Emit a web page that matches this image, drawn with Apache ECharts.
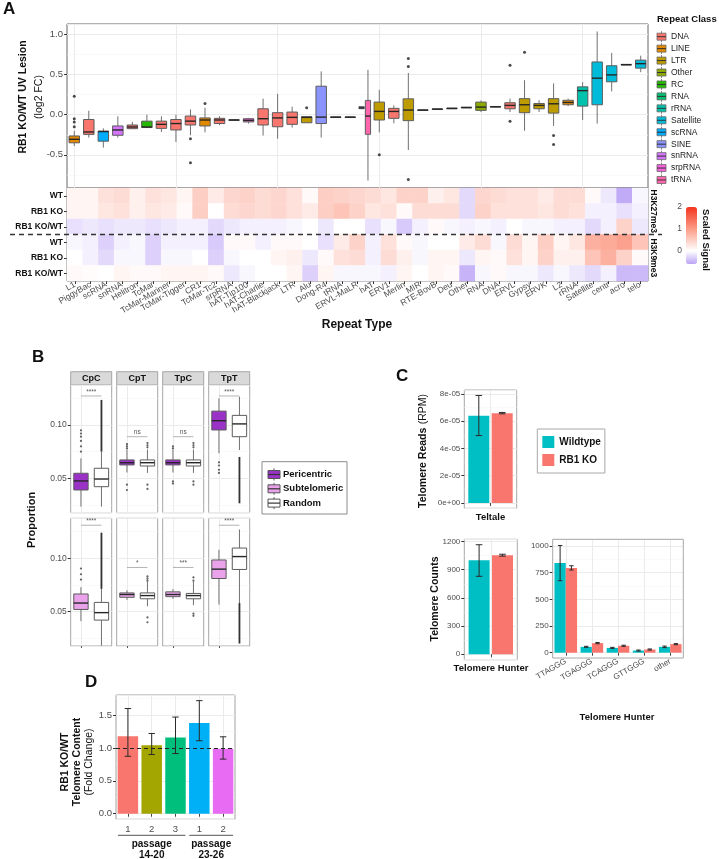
<!DOCTYPE html>
<html>
<head>
<meta charset="utf-8">
<script src="https://cdn.jsdelivr.net/npm/echarts@6/dist/echarts.min.js"></script>
<style>
  html, body { margin: 0; padding: 0; background: #fff; }
  #chart { width: 719px; height: 859px; }
</style>
</head>
<body>
<div id="chart"></div>
<script>
// ---------------- Panel A: UV lesion fold change per repeat type ----------------
const classNames = ['DNA', 'LINE', 'LTR', 'Other', 'RC', 'RNA', 'rRNA', 'Satellite', 'scRNA', 'SINE', 'snRNA', 'srpRNA', 'tRNA'];
const classColors = ['#F8766D', '#E18A00', '#BE9C00', '#8CAB00', '#24B700', '#00BE70', '#00C1AB', '#00BBDA', '#00ACFC', '#8B93FF', '#D575FE', '#F962DD', '#FF65AC'];

const boxSlotNames = ['L1', 'PiggyBac', 'scRNA', 'snRNA', 'DNA?', 'Helitron', 'TcMar', 'TcMar-Mariner', 'TcMar-Tigger', 'CR1',
  'TcMar-Tc2', 'Unknown', 'srpRNA', 'hAT-Tip100', 'hAT-Charlie', 'hAT-Blackjack', 'LTR', 'Alu', 'LTR?', 'Dong-R4',
  'tRNA', 'ERVL-MaLR', 'hAT', 'ERV1', 'Merlin', 'MIR', 'RTE-BovB', 'Deu', 'Other', 'RNA',
  'DNA', 'ERVL', 'Gypsy', 'ERVK', 'L2', 'rRNA', 'Satellite', 'centr', 'acro', 'telo'];

// [slot, min, q1, median, q3, max]
const boxStats = [
  [0, -0.39, -0.35, -0.306, -0.265, -0.2],
  [1, -0.285, -0.245, -0.215, -0.06, 0.05],
  [2, -0.41, -0.33, -0.21, -0.205, -0.17],
  [3, -0.285, -0.256, -0.19, -0.14, -0.02],
  [4, -0.174, -0.174, -0.153, -0.128, -0.09],
  [5, -0.16, -0.16, -0.153, -0.08, 0.0],
  [6, -0.215, -0.17, -0.12, -0.08, -0.02],
  [7, -0.34, -0.19, -0.11, -0.06, 0.0],
  [8, -0.256, -0.128, -0.08, -0.017, 0.066],
  [9, -0.22, -0.14, -0.066, -0.04, 0.087],
  [10, -0.13, -0.11, -0.066, -0.045, -0.02],
  [11, -0.07, -0.066, -0.066, -0.063, -0.06],
  [12, -0.11, -0.09, -0.07, -0.05, -0.04],
  [13, -0.26, -0.128, -0.05, 0.074, 0.2],
  [14, -0.3, -0.15, -0.04, 0.025, 0.26],
  [15, -0.16, -0.12, -0.033, 0.033, 0.1],
  [16, -0.1, -0.1, -0.033, -0.025, -0.02],
  [17, -0.285, -0.11, -0.03, 0.355, 0.54],
  [18, -0.033, -0.03, -0.03, -0.028, -0.025],
  [19, -0.033, -0.03, -0.03, -0.028, -0.025],
  [20, 0.07, 0.075, 0.085, 0.1, 0.1],
  [20, -0.82, -0.244, -0.017, 0.178, 0.56],
  [21, -0.22, -0.066, 0.041, 0.157, 0.31],
  [22, -0.107, -0.045, 0.041, 0.079, 0.116],
  [23, -0.44, -0.074, 0.058, 0.198, 0.52],
  [24, 0.056, 0.058, 0.058, 0.06, 0.06],
  [25, 0.068, 0.07, 0.07, 0.072, 0.072],
  [26, 0.077, 0.079, 0.079, 0.081, 0.081],
  [27, 0.088, 0.09, 0.09, 0.092, 0.092],
  [28, 0.033, 0.054, 0.095, 0.157, 0.178],
  [29, 0.098, 0.1, 0.1, 0.102, 0.102],
  [30, 0.033, 0.074, 0.116, 0.149, 0.2],
  [31, -0.2, 0.025, 0.124, 0.2, 0.43],
  [32, 0.033, 0.074, 0.116, 0.14, 0.18],
  [33, -0.14, 0.02, 0.136, 0.2, 0.39],
  [34, 0.107, 0.124, 0.153, 0.18, 0.2],
  [35, -0.066, 0.107, 0.3, 0.347, 0.405],
  [36, -0.11, 0.124, 0.455, 0.657, 1.037],
  [37, 0.29, 0.41, 0.496, 0.61, 0.77],
  [38, 0.622, 0.624, 0.624, 0.626, 0.626],
  [39, 0.53, 0.58, 0.636, 0.68, 0.735]
];
const boxClass = ['LINE', 'DNA', 'scRNA', 'snRNA', 'DNA', 'RC', 'DNA', 'DNA', 'DNA', 'LINE',
  'DNA', 'DNA', 'srpRNA', 'DNA', 'DNA', 'DNA', 'LTR', 'SINE', 'LTR', 'LINE',
  'SINE', 'tRNA', 'LTR', 'DNA', 'LTR', 'DNA', 'SINE', 'LINE', 'SINE', 'Other',
  'RNA', 'DNA', 'LTR', 'LTR', 'LTR', 'LINE', 'rRNA', 'Satellite', 'Satellite', 'Satellite', 'Satellite'];
// -1 / +1 = dodged pair sharing one slot
const boxDodge = [0, 0, 0, 0, 0, 0, 0, 0, 0, 0, 0, 0, 0, 0, 0, 0, 0, 0, 0, 0,
  -1, 1, 0, 0, 0, 0, 0, 0, 0, 0, 0, 0, 0, 0, 0, 0, 0, 0, 0, 0, 0];
// [slot, value]
const boxOutliers = [[0, 0.23], [0, -0.05], [0, -0.09], [0, -0.15], [8, -0.3], [8, -0.6], [9, 0.14], [16, 0.087],
  [21, -0.5], [23, 0.6], [23, 0.7], [23, -0.806], [30, 0.616], [30, -0.08], [31, 0.777], [33, -0.26], [33, -0.37]];

// heatmap (scaled signal)
const heatCols = ['L1', 'PiggyBac', 'scRNA', 'snRNA', 'Helitron', 'TcMar', 'TcMar-Mariner', 'TcMar-Tigger', 'CR1', 'TcMar-Tc2',
  'srpRNA', 'hAT-Tip100', 'hAT-Charlie', 'hAT-Blackjack', 'LTR', 'Alu', 'Dong-R4', 'tRNA', 'ERVL-MaLR', 'hAT',
  'ERV1', 'Merlin', 'MIR', 'RTE-BovB', 'Deu', 'Other', 'RNA', 'DNA', 'ERVL', 'Gypsy',
  'ERVK', 'L2', 'rRNA', 'Satellite', 'centr', 'acro', 'telo'];
const heatRowKeys = ['K27 WT', 'K27 RB1 KO', 'K27 RB1 KO/WT', 'K9 WT', 'K9 RB1 KO', 'K9 RB1 KO/WT'];
const heatRowLabels = ['WT', 'RB1 KO', 'RB1 KO/WT', 'WT', 'RB1 KO', 'RB1 KO/WT'];
const heatK27WT = [0.1, 0.1, 0.3, 0.35, 0.15, 0.3, 0.25, 0.1, 0.5, 0.2, 0.4, 0.45, 0.35, 0.4, 0.3, 0.05, 0.5, 0.45, 0.4, 0.35,
  0.25, 0.45, 0.45, 0.15, 0.25, -0.25, 0.4, 0.35, 0.3, 0.3, 0.2, 0.35, 0.35, 0.05, -0.15, -0.55, -0.05];
const heatK27KO = [0.1, 0.1, 0.25, 0.3, 0.15, 0.25, 0.2, 0.05, 0.5, 0.0, 0.35, 0.4, 0.35, 0.4, 0.3, 0.2, 0.5, 0.6, 0.45, 0.25,
  0.3, 0.05, 0.35, 0.35, 0.35, -0.25, 0.45, 0.3, 0.3, 0.3, 0.25, 0.35, 0.3, -0.1, -0.1, -0.2, -0.1];
const heatK27Ratio = [-0.2, -0.15, -0.2, -0.15, -0.15, -0.2, -0.15, -0.1, -0.1, -0.25, -0.15, -0.1, -0.1, -0.1, -0.05, 0.0, -0.15, 0.0, 0.0, -0.2,
  -0.05, -0.35, -0.1, 0.05, -0.05, -0.1, -0.05, -0.1, 0.0, -0.05, -0.05, -0.1, -0.1, -0.25, -0.1, 0.45, -0.15];
const heatK9WT = [-0.05, -0.1, -0.3, -0.1, -0.05, -0.3, -0.1, -0.1, -0.1, -0.35, 0.05, 0.05, -0.1, 0.05, 0.05, 0.0, -0.2, 0.2, 0.45, -0.1,
  0.3, 0.05, -0.05, 0.0, 0.0, 0.2, 0.35, -0.05, 0.35, 0.1, 0.5, 0.1, 0.25, 0.8, 0.85, 0.95, 0.6];
const heatK9KO = [0.0, -0.1, -0.25, -0.05, -0.05, -0.3, -0.05, -0.05, 0.0, -0.3, -0.05, 0.0, 0.0, 0.1, 0.15, -0.15, 0.05, 0.3, 0.35, -0.1,
  0.35, 0.15, -0.05, 0.1, 0.1, -0.15, 0.1, 0.05, 0.3, 0.1, 0.45, 0.15, 0.15, 0.6, 0.8, 0.45, 0.05];
const heatK9Ratio = [0.05, 0.03, 0.0, 0.1, 0.05, 0.05, 0.1, 0.1, 0.1, 0.05, -0.15, -0.05, 0.0, 0.0, 0.1, -0.3, 0.1, -0.05, -0.05, -0.05,
  -0.1, 0.1, 0.0, 0.1, 0.05, -0.5, -0.05, 0.05, -0.05, -0.05, -0.15, -0.05, -0.15, -0.25, -0.1, -0.45, -0.45];
const scaleTicks = [2, 1, 0];

// ---------------- Panel B: dinucleotide proportions ----------------
const dinucs = ['CpC', 'CpT', 'TpC', 'TpT'];
const groupNames = ['Pericentric', 'Subtelomeric', 'Random'];
// [min, q1, median, q3, max] per dinucleotide
const periStats = [[0.0234, 0.039, 0.0475, 0.0547, 0.0687], [0.0554, 0.0625, 0.0646, 0.0672, 0.0766], [0.0554, 0.0625, 0.0646, 0.0672, 0.0766], [0.0735, 0.0953, 0.104, 0.113, 0.125]];
const randTopStats = [[0.0234, 0.0421, 0.0493, 0.0594, 0.075], [0.055, 0.0615, 0.0646, 0.0672, 0.077], [0.055, 0.0615, 0.0646, 0.0672, 0.077], [0.0765, 0.089, 0.101, 0.109, 0.1265]];
const subStats = [[0.041, 0.052, 0.058, 0.0665, 0.0729], [0.061, 0.0634, 0.066, 0.0675, 0.07], [0.062, 0.064, 0.066, 0.0685, 0.071], [0.0566, 0.081, 0.0898, 0.0984, 0.108]];
const randBotStats = [[0.018, 0.042, 0.049, 0.0586, 0.0713], [0.055, 0.062, 0.065, 0.0675, 0.078], [0.056, 0.062, 0.065, 0.067, 0.078], [0.058, 0.0895, 0.1016, 0.1096, 0.127]];
// outlier points [group(0 = region, 1 = Random), value]
const periOutliers = [[[0, 0.075], [0, 0.08], [0, 0.085], [0, 0.089], [0, 0.092], [0, 0.095]],
  [[0, 0.078], [0, 0.08], [0, 0.082], [0, 0.044], [0, 0.039], [1, 0.079], [1, 0.081], [1, 0.083], [1, 0.044], [1, 0.04]],
  [[0, 0.078], [0, 0.08], [0, 0.047], [0, 0.045], [1, 0.079], [1, 0.081], [1, 0.083], [1, 0.047], [1, 0.044]],
  [[0, 0.065], [0, 0.062], [0, 0.058], [0, 0.055]]];
const subOutliers = [[[0, 0.08], [0, 0.085], [0, 0.0904]],
  [[1, 0.079], [1, 0.081], [1, 0.083], [1, 0.0445], [1, 0.04]],
  [[1, 0.079], [1, 0.082], [1, 0.048], [1, 0.046]],
  []];
// dense outlier runs [group, from, to]
const periStreaks = [[[1, 0.075, 0.1235]], [], [], [[1, 0.0265, 0.07]]];
const subStreaks = [[[1, 0.0713, 0.124]], [], [], [[1, 0.02, 0.058]]];
const periSig = [[0.1272, '****'], [0.089, 'ns'], [0.089, 'ns'], [0.1272, '****']];
const subSig = [[0.131, '****'], [0.0914, '*'], [0.0914, '***'], [0.131, '****']];

// ---------------- Panel C: telomere reads ----------------
const genotypes = ['Wildtype', 'RB1 KO'];
const teltaleMean = [6.4e-5, 6.6e-5];
const teltaleErr = [[4.95e-5, 7.9e-5], [6.55e-5, 6.65e-5]];
const hunterMean = [1000, 1055];
const hunterErr = [[830, 1166], [1045, 1065]];
const motifs = ['TTAGGG', 'TGAGGG', 'TCAGGG', 'GTTGGG', 'other'];
const motifWT = [840, 55, 45, 20, 55];
const motifKO = [795, 90, 65, 30, 80];
const motifErrWT = [[675, 1005], [50, 60], [40, 50], [15, 25], [48, 62]];
const motifErrKO = [[775, 815], [84, 96], [60, 70], [25, 35], [75, 85]];

// ---------------- Panel D: telomere content fold change ----------------
const dReplicate = ['1', '2', '3', '1', '2'];
const dSampleKeys = ['14-20 r1', '14-20 r2', '14-20 r3', '23-26 r1', '23-26 r2'];
const dFold = [1.18, 1.04, 1.16, 1.38, 0.985];
const dErr = [[0.873, 1.6], [0.9, 1.22], [0.915, 1.47], [1.11, 1.72], [0.83, 1.17]];
const dGroups = [[0, 2], [3, 4]];
const dGroupLabels = ['passage\n14-20', 'passage\n23-26'];

// ---------------- styling ----------------
const FONT = '"Liberation Sans", Arial, Helvetica, sans-serif';
const TXT = '#4D4D4D';
const GRIDLINE = '#EBEBEB';
const MINOR = '#F5F5F5';
const periColor = '#9A32C8';
const subColor = '#EAA3EA';
const wtColor = '#00BFC4';
const koColor = '#F8766D';
const dColors = ['#F8766D', '#A3A500', '#00BF7D', '#00B0F6', '#E76BF3'];

function classColor(c) { return classColors[classNames.indexOf(c)]; }

function sciLabel(v) {
  if (Math.abs(v) < 1e-12) return '0e+00';
  const e = Math.floor(Math.log10(Math.abs(v)) + 1e-9);
  const m = Math.round(v / Math.pow(10, e));
  return m + 'e' + (e < 0 ? '-' : '+') + String(Math.abs(e)).padStart(2, '0');
}
function plainLabel(v) { return String(Math.round(v)); }

function mix(a, b, t) {
  const pa = [1, 3, 5].map(i => parseInt(a.substr(i, 2), 16));
  const pb = [1, 3, 5].map(i => parseInt(b.substr(i, 2), 16));
  return '#' + pa.map((v, i) => Math.round(v + (pb[i] - v) * t).toString(16).padStart(2, '0')).join('');
}
const scaleAnchors = [[-0.6, '#BBA3F6'], [0, '#FFFFFF'], [1, '#FB9C87'], [2, '#F4341D']];
function scaleColor(v) {
  for (let i = 0; i < scaleAnchors.length - 1; i++) {
    const [v0, c0] = scaleAnchors[i], [v1, c1] = scaleAnchors[i + 1];
    if (v <= v1 + 1e-9) return mix(c0, c1, (v - v0) / (v1 - v0));
  }
  return scaleAnchors[scaleAnchors.length - 1][1];
}
const vmColors = [];
for (let k = 0; k <= 13; k++) vmColors.push(scaleColor(-0.6 + k * 0.2));

// box glyph drawn through the axis scales
function makeBoxRenderer(widthFrac, dodgeFrac) {
  return function (params, api) {
    const slot = api.value(0);
    const band = api.size([1, 0])[0];
    const dodge = api.value(6) || 0;
    const w = band * (dodge ? widthFrac / 2 : widthFrac);
    const cx = api.coord([slot, 0])[0] + dodge * band * dodgeFrac;
    const y = k => api.coord([slot, api.value(k)])[1];
    const yMin = y(1), yQ1 = y(2), yMed = y(3), yQ3 = y(4), yMax = y(5);
    const whisker = { stroke: '#707070', lineWidth: 1 };
    return {
      type: 'group', children: [
        { type: 'line', shape: { x1: cx, y1: yMin, x2: cx, y2: yQ1 }, style: whisker },
        { type: 'line', shape: { x1: cx, y1: yQ3, x2: cx, y2: yMax }, style: whisker },
        { type: 'rect', shape: { x: cx - w / 2, y: yQ3, width: w, height: Math.max(yQ1 - yQ3, 0.6) },
          style: { fill: api.visual('color'), stroke: '#5C5C5C', lineWidth: 1 } },
        { type: 'line', shape: { x1: cx - w / 2, y1: yMed, x2: cx + w / 2, y2: yMed }, style: { stroke: '#262626', lineWidth: 1.4 } }
      ]
    };
  };
}

function makeErrRenderer(offsetPx, cap) {
  return function (params, api) {
    const c = api.value(0);
    const x = api.coord([c, 0])[0] + offsetPx;
    const yLo = api.coord([c, api.value(1)])[1];
    const yHi = api.coord([c, api.value(2)])[1];
    const st = { stroke: '#2A2A2A', lineWidth: 1 };
    return {
      type: 'group', children: [
        { type: 'line', shape: { x1: x, y1: yLo, x2: x, y2: yHi }, style: st },
        { type: 'line', shape: { x1: x - cap, y1: yLo, x2: x + cap, y2: yLo }, style: st },
        { type: 'line', shape: { x1: x - cap, y1: yHi, x2: x + cap, y2: yHi }, style: st }
      ]
    };
  };
}

function streakRenderer(params, api) {
  const c = api.value(0);
  const x = api.coord([c, 0])[0];
  const y1 = api.coord([c, api.value(1)])[1], y2 = api.coord([c, api.value(2)])[1];
  return { type: 'line', shape: { x1: x, y1: y1, x2: x, y2: y2 }, style: { stroke: '#333', lineWidth: 1.8 } };
}

function makeSigRenderer(text) {
  return function (params, api) {
    const a = api.coord([api.value(0), api.value(2)]);
    const b = api.coord([api.value(1), api.value(2)]);
    return {
      type: 'group', children: [
        { type: 'line', shape: { x1: a[0], y1: a[1], x2: b[0], y2: b[1] }, style: { stroke: '#A0A0A0', lineWidth: 0.8 } },
        { type: 'text', x: (a[0] + b[0]) / 2, y: a[1] - 0.5,
          style: { text: text, align: 'center', verticalAlign: 'bottom', fontSize: 6.5, fill: '#555', fontFamily: FONT } }
      ]
    };
  };
}

const grids = [], xAxes = [], yAxes = [], series = [], graphics = [];

function catAxis(gi, data, extra) {
  return Object.assign({
    type: 'category', gridIndex: gi, data: data, boundaryGap: true,
    axisLine: { show: false },
    axisTick: { show: false },
    axisLabel: { show: false },
    splitLine: { show: true, alignWithLabel: true, lineStyle: { color: GRIDLINE, width: 1 } }
  }, extra || {});
}
function valAxis(gi, min, max, extra) {
  return Object.assign({
    type: 'value', gridIndex: gi, min: min, max: max,
    axisLine: { show: false },
    axisTick: { show: true, length: 3, lineStyle: { color: '#333' } },
    axisLabel: { show: true, fontSize: 8.5, color: TXT, margin: 4, fontFamily: FONT, showMinLabel: false, showMaxLabel: false },
    splitLine: { show: true, lineStyle: { color: GRIDLINE, width: 1 } },
    minorTick: { show: false, splitNumber: 2 },
    minorSplitLine: { show: true, lineStyle: { color: MINOR, width: 0.6 } }
  }, extra || {});
}

// ---- A: boxplot grid (0) ----
const A_LEFT = 67, A_W = 581, A_TOP = 24, A_BOX_H = 164, A_HEAT_H = 93;
grids.push({ left: A_LEFT, top: A_TOP, width: A_W, height: A_BOX_H, show: true, borderColor: '#666', borderWidth: 1, backgroundColor: '#fff', outerBoundsMode: 'none', containLabel: false });
xAxes.push(catAxis(0, boxSlotNames));
yAxes.push(valAxis(0, -0.913, 1.13, {
  splitNumber: 4,
  axisLabel: { show: true, fontSize: 9.5, color: TXT, margin: 4, fontFamily: FONT, showMinLabel: false, showMaxLabel: false, formatter: v => v.toFixed(1) },
  axisTick: { show: true, length: 3, lineStyle: { color: '#333' } }
}));
series.push({
  type: 'custom', name: 'UV lesion', xAxisIndex: 0, yAxisIndex: 0,
  renderItem: makeBoxRenderer(0.72, 0.22),
  encode: { x: 0, y: [1, 2, 3, 4, 5] },
  data: boxStats.map((s, i) => ({ value: s.concat([boxDodge[i]]), itemStyle: { color: classColor(boxClass[i]) } })),
  z: 3, silent: true
});
series.push({
  type: 'scatter', xAxisIndex: 0, yAxisIndex: 0, data: boxOutliers, symbolSize: 3,
  itemStyle: { color: '#1E1E1E' }, z: 4, silent: true
});

// ---- A: heatmap grid (1) ----
grids.push({ left: A_LEFT, top: A_TOP + A_BOX_H, width: A_W, height: A_HEAT_H, show: true, borderColor: '#666', borderWidth: 1, backgroundColor: '#fff', outerBoundsMode: 'none', containLabel: false });
xAxes.push({
  type: 'category', gridIndex: 1, data: heatCols, boundaryGap: true,
  axisLine: { show: false },
  axisTick: { show: true, length: 3, alignWithLabel: true, lineStyle: { color: '#333' } },
  axisLabel: { show: true, interval: 0, rotate: 30, fontSize: 8.5, color: TXT, margin: 3, fontFamily: FONT },
  splitLine: { show: false }
});
yAxes.push({
  type: 'category', gridIndex: 1, data: heatRowKeys, inverse: true, boundaryGap: true,
  axisLine: { show: false },
  axisTick: { show: true, length: 3, alignWithLabel: true, lineStyle: { color: '#333' } },
  axisLabel: { show: true, fontSize: 8.5, fontWeight: 'bold', color: '#111', margin: 4, fontFamily: FONT, formatter: (v, i) => heatRowLabels[i] },
  splitLine: { show: false }
});
const heatRows = [heatK27WT, heatK27KO, heatK27Ratio, heatK9WT, heatK9KO, heatK9Ratio];
const heatData = [];
heatRows.forEach((row, r) => row.forEach((v, c) => heatData.push([c, r, v])));
const heatSeriesIndex = series.length;
series.push({
  type: 'heatmap', name: 'Scaled Signal', xAxisIndex: 1, yAxisIndex: 1, data: heatData,
  itemStyle: { borderWidth: 0 }, emphasis: { disabled: true }, silent: true, z: 2
});

// ---- B: 2 rows x 4 facets (grids 2..9) ----
const B_X = [70.7, 116.7, 162.7, 208.7], B_W = 41, B_Y = [385, 518.3], B_H = 127.7;
const B_MIN = 0.0177, B_MAX = 0.1375;
for (let r = 0; r < 2; r++) {
  for (let f = 0; f < 4; f++) {
    const gi = grids.length;
    grids.push({ left: B_X[f], top: B_Y[r], width: B_W, height: B_H, show: true, borderColor: '#A6A6A6', borderWidth: 1, backgroundColor: '#fff', outerBoundsMode: 'none', containLabel: false });
    const cats = r === 0 ? ['Pericentric', 'Random'] : ['Subtelomeric', 'Random'];
    xAxes.push(catAxis(gi, cats, {
      axisTick: { show: r === 1, length: 2, alignWithLabel: true, lineStyle: { color: '#555' } }
    }));
    yAxes.push(valAxis(gi, B_MIN, B_MAX, {
      splitNumber: 2,
      axisLabel: { show: f === 0, fontSize: 8.5, color: TXT, margin: 4, fontFamily: FONT, showMinLabel: false, showMaxLabel: false, formatter: v => v.toFixed(2) },
      axisTick: { show: f === 0, length: 3, lineStyle: { color: '#333' } }
    }));
    const st = r === 0 ? periStats[f] : subStats[f];
    const rs = r === 0 ? randTopStats[f] : randBotStats[f];
    series.push({
      type: 'custom', xAxisIndex: gi, yAxisIndex: gi, renderItem: makeBoxRenderer(0.7, 0),
      encode: { x: 0, y: [1, 2, 3, 4, 5] }, z: 3, silent: true,
      data: [
        { value: [0].concat(st, [0]), itemStyle: { color: r === 0 ? periColor : subColor } },
        { value: [1].concat(rs, [0]), itemStyle: { color: '#FFFFFF' } }
      ]
    });
    const outs = r === 0 ? periOutliers[f] : subOutliers[f];
    if (outs.length) {
      series.push({ type: 'scatter', xAxisIndex: gi, yAxisIndex: gi, data: outs, symbolSize: 2.2, itemStyle: { color: '#3A3A3A' }, z: 4, silent: true });
    }
    const streaks = r === 0 ? periStreaks[f] : subStreaks[f];
    if (streaks.length) {
      series.push({ type: 'custom', xAxisIndex: gi, yAxisIndex: gi, renderItem: streakRenderer, encode: { x: 0, y: [1, 2] }, data: streaks, z: 4, silent: true });
    }
    const sig = r === 0 ? periSig[f] : subSig[f];
    series.push({
      type: 'custom', xAxisIndex: gi, yAxisIndex: gi, renderItem: makeSigRenderer(sig[1]),
      encode: { x: [0, 1], y: 2 }, data: [[0, 1, sig[0]]], z: 5, silent: true
    });
  }
}

// ---- C: Teltale (grid 10) ----
const C_BARW = 21, C_GAP = 2.4;
const cOff = (C_BARW + C_GAP) / 2;
let gi = grids.length;
grids.push({ left: 464.3, top: 390, width: 52.4, height: 118.3, show: true, borderColor: '#A8A8A8', borderWidth: 1, backgroundColor: '#fff', outerBoundsMode: 'none', containLabel: false });
xAxes.push(catAxis(gi, ['Teltale'], { axisTick: { show: true, length: 3, alignWithLabel: true, lineStyle: { color: '#444' } } }));
yAxes.push(valAxis(gi, -0.395e-5, 8.3e-5, {
  splitNumber: 4,
  axisLabel: { show: true, fontSize: 8, color: TXT, margin: 4, fontFamily: FONT, showMinLabel: false, showMaxLabel: false, formatter: sciLabel }
}));
series.push({ type: 'bar', name: genotypes[0], xAxisIndex: gi, yAxisIndex: gi, data: [teltaleMean[0]], barWidth: C_BARW, barGap: (C_GAP / C_BARW * 100) + '%', itemStyle: { color: wtColor }, silent: true });
series.push({ type: 'bar', name: genotypes[1], xAxisIndex: gi, yAxisIndex: gi, data: [teltaleMean[1]], barWidth: C_BARW, itemStyle: { color: koColor }, silent: true });
series.push({ type: 'custom', xAxisIndex: gi, yAxisIndex: gi, renderItem: makeErrRenderer(-cOff, 3.3), encode: { x: 0, y: [1, 2] }, data: [[0].concat(teltaleErr[0])], z: 5, silent: true });
series.push({ type: 'custom', xAxisIndex: gi, yAxisIndex: gi, renderItem: makeErrRenderer(cOff, 3.3), encode: { x: 0, y: [1, 2] }, data: [[0].concat(teltaleErr[1])], z: 5, silent: true });

// ---- C: Telomere Hunter total (grid 11) ----
gi = grids.length;
grids.push({ left: 464.3, top: 539.3, width: 53, height: 120.4, show: true, borderColor: '#A8A8A8', borderWidth: 1, backgroundColor: '#fff', outerBoundsMode: 'none', containLabel: false });
xAxes.push(catAxis(gi, ['Telomere Hunter'], { axisTick: { show: true, length: 3, alignWithLabel: true, lineStyle: { color: '#444' } } }));
yAxes.push(valAxis(gi, -58, 1224, {
  splitNumber: 4,
  axisLabel: { show: true, fontSize: 8, color: TXT, margin: 4, fontFamily: FONT, showMinLabel: false, showMaxLabel: false, formatter: plainLabel }
}));
series.push({ type: 'bar', name: genotypes[0], xAxisIndex: gi, yAxisIndex: gi, data: [hunterMean[0]], barWidth: C_BARW, barGap: (C_GAP / C_BARW * 100) + '%', itemStyle: { color: wtColor }, silent: true });
series.push({ type: 'bar', name: genotypes[1], xAxisIndex: gi, yAxisIndex: gi, data: [hunterMean[1]], barWidth: C_BARW, itemStyle: { color: koColor }, silent: true });
series.push({ type: 'custom', xAxisIndex: gi, yAxisIndex: gi, renderItem: makeErrRenderer(-cOff, 3.3), encode: { x: 0, y: [1, 2] }, data: [[0].concat(hunterErr[0])], z: 5, silent: true });
series.push({ type: 'custom', xAxisIndex: gi, yAxisIndex: gi, renderItem: makeErrRenderer(cOff, 3.3), encode: { x: 0, y: [1, 2] }, data: [[0].concat(hunterErr[1])], z: 5, silent: true });

// ---- C: Telomere Hunter motifs (grid 12) ----
const M_BARW = 11.3;
const C2 = { left: 552.7, top: 539.3, width: 130.6, height: 113.4, frameH: 118.7 };
gi = grids.length;
grids.push({ left: C2.left, top: C2.top, width: C2.width, height: C2.height, show: false, outerBoundsMode: 'none', containLabel: false });
xAxes.push(catAxis(gi, motifs, {
  axisTick: { show: true, length: 3, alignWithLabel: true, lineStyle: { color: '#444' } },
  axisLabel: { show: true, interval: 0, rotate: 30, fontSize: 8, color: TXT, margin: 8, fontFamily: FONT }
}));
yAxes.push(valAxis(gi, 0, 1063, { interval: 250, axisLabel: { show: true, fontSize: 8, color: TXT, margin: 4, fontFamily: FONT, showMinLabel: true, showMaxLabel: false, formatter: plainLabel } }));
series.push({ type: 'bar', name: genotypes[0], xAxisIndex: gi, yAxisIndex: gi, data: motifWT, barWidth: M_BARW, barGap: '0%', itemStyle: { color: wtColor }, silent: true });
series.push({ type: 'bar', name: genotypes[1], xAxisIndex: gi, yAxisIndex: gi, data: motifKO, barWidth: M_BARW, itemStyle: { color: koColor }, silent: true });
series.push({ type: 'custom', xAxisIndex: gi, yAxisIndex: gi, renderItem: makeErrRenderer(-M_BARW / 2, 2.2), encode: { x: 0, y: [1, 2] }, data: motifErrWT.map((e, i) => [i].concat(e)), z: 5, silent: true });
series.push({ type: 'custom', xAxisIndex: gi, yAxisIndex: gi, renderItem: makeErrRenderer(M_BARW / 2, 2.2), encode: { x: 0, y: [1, 2] }, data: motifErrKO.map((e, i) => [i].concat(e)), z: 5, silent: true });

// ---- D: fold change (grid 13) ----
gi = grids.length;
grids.push({ left: 116, top: 695, width: 119, height: 124.3, show: true, borderColor: '#A0A0A0', borderWidth: 1, backgroundColor: '#fff', outerBoundsMode: 'none', containLabel: false });
xAxes.push(catAxis(gi, dSampleKeys, {
  axisTick: { show: true, length: 3, alignWithLabel: true, lineStyle: { color: '#444' } },
  axisLabel: { show: true, interval: 0, fontSize: 9.5, color: TXT, margin: 5, fontFamily: FONT, formatter: (v, i) => dReplicate[i] }
}));
yAxes.push(valAxis(gi, -0.086, 1.806, {
  splitNumber: 4,
  axisLabel: { show: true, fontSize: 9.5, color: TXT, margin: 4, fontFamily: FONT, showMinLabel: false, showMaxLabel: false, formatter: v => v.toFixed(1) }
}));
series.push({
  type: 'bar', xAxisIndex: gi, yAxisIndex: gi, barWidth: '86%', silent: true,
  data: dFold.map((v, i) => ({ value: v, itemStyle: { color: dColors[i] } })),
  markLine: { silent: true, symbol: 'none', label: { show: false }, lineStyle: { type: [4, 3], color: '#222', width: 1 }, data: [{ yAxis: 1 }] }
});
series.push({ type: 'custom', xAxisIndex: gi, yAxisIndex: gi, renderItem: makeErrRenderer(0, 3.2), encode: { x: 0, y: [1, 2] }, data: dErr.map((e, i) => [i].concat(e)), z: 5, silent: true });
series.push({
  type: 'custom', xAxisIndex: gi, yAxisIndex: gi, clip: false, silent: true, encode: { x: [0, 1], y: 2 },
  data: dGroups.map(g => [g[0], g[1], 0]),
  renderItem: function (params, api) {
    const band = api.size([1, 0])[0];
    const x1 = api.coord([api.value(0), 0])[0] - band * 0.42;
    const x2 = api.coord([api.value(1), 0])[0] + band * 0.42;
    const y = params.coordSys.y + params.coordSys.height + 16;
    return {
      type: 'group', children: [
        { type: 'line', shape: { x1: x1, y1: y, x2: x2, y2: y }, style: { stroke: '#555', lineWidth: 1 } },
        { type: 'text', x: (x1 + x2) / 2, y: y + 3, style: { text: dGroupLabels[params.dataIndex], align: 'center', verticalAlign: 'top', fontSize: 10, fontWeight: 'bold', lineHeight: 11.5, fill: '#111', fontFamily: FONT } }
      ]
    };
  }
});

// ---------------- annotations ----------------
function label(x, y, text, extra, rotation) {
  const el = { type: 'text', x: x, y: y, silent: true, style: Object.assign({ text: text, fontFamily: FONT, fill: '#111', align: 'center', verticalAlign: 'middle' }, extra || {}) };
  if (rotation) el.rotation = rotation;
  graphics.push(el);
}
// panel letters
label(3, 1, 'A', { fontSize: 17, fontWeight: 'bold', align: 'left', verticalAlign: 'top' });
label(32, 349, 'B', { fontSize: 17, fontWeight: 'bold', align: 'left', verticalAlign: 'top' });
label(396, 368, 'C', { fontSize: 17, fontWeight: 'bold', align: 'left', verticalAlign: 'top' });
label(85, 674, 'D', { fontSize: 17, fontWeight: 'bold', align: 'left', verticalAlign: 'top' });

// A titles
label(31, 97, '{b|RB1 KO/WT UV Lesion}\n{n|(log2 FC)}', { rich: { b: { fontSize: 10.5, fontWeight: 'bold', fontFamily: FONT, lineHeight: 16, fill: '#111' }, n: { fontSize: 10.5, fontFamily: FONT, lineHeight: 16, fill: '#111' } } }, Math.PI / 2);
label(357, 325, 'Repeat Type', { fontSize: 12, fontWeight: 'bold' });
label(653, A_TOP + A_BOX_H + A_HEAT_H / 4, 'H3K27me3', { fontSize: 8.5, fontWeight: 'bold' }, -Math.PI / 2);
label(653, A_TOP + A_BOX_H + 3 * A_HEAT_H / 4, 'H3K9me3', { fontSize: 8.5, fontWeight: 'bold' }, -Math.PI / 2);
graphics.push({ type: 'line', silent: true, shape: { x1: 10, y1: A_TOP + A_BOX_H + A_HEAT_H / 2, x2: 662, y2: A_TOP + A_BOX_H + A_HEAT_H / 2 }, style: { stroke: '#333', lineWidth: 1.3, lineDash: [5, 4] }, z: 10 });

// A class legend
label(657, 19, 'Repeat Class', { fontSize: 9.5, fontWeight: 'bold', align: 'left' });
classNames.forEach((n, i) => {
  const cy = 36.7 + i * 11.94;
  graphics.push({ type: 'line', silent: true, shape: { x1: 661.5, y1: cy - 5.5, x2: 661.5, y2: cy + 5.5 }, style: { stroke: '#8A8A8A', lineWidth: 1 } });
  graphics.push({ type: 'rect', silent: true, shape: { x: 657, y: cy - 3.5, width: 9, height: 7 }, style: { fill: classColors[i], stroke: '#6A6A6A', lineWidth: 0.8 } });
  graphics.push({ type: 'line', silent: true, shape: { x1: 657, y1: cy, x2: 666, y2: cy }, style: { stroke: '#333', lineWidth: 1 } });
  label(671, cy, n, { fontSize: 8.5, align: 'left', fill: '#222' });
});

// A colour bar labels
const VM = { left: 686, top: 207, width: 11, height: 57, min: -0.6, max: 2 };
scaleTicks.forEach(t => {
  const y = VM.top + (VM.max - t) / (VM.max - VM.min) * VM.height;
  label(682, y, String(t), { fontSize: 8.5, align: 'right', fill: TXT });
});
label(706, 240, 'Scaled Signal', { fontSize: 9.5, fontWeight: 'bold' }, -Math.PI / 2);

// B strips, title, legend
dinucs.forEach((d, f) => {
  graphics.push({ type: 'rect', silent: true, shape: { x: B_X[f], y: 371.7, width: B_W, height: 13.3 }, style: { fill: '#D9D9D9', stroke: '#A6A6A6', lineWidth: 1 } });
  label(B_X[f] + B_W / 2, 378.5, d, { fontSize: 9, fontWeight: 'bold' });
});
label(32, 520, 'Proportion', { fontSize: 11, fontWeight: 'bold' }, Math.PI / 2);
graphics.push({ type: 'rect', silent: true, shape: { x: 262, y: 461.7, width: 85, height: 52.3 }, style: { fill: '#fff', stroke: '#8C8C8C', lineWidth: 1 } });
[periColor, subColor, '#FFFFFF'].forEach((c, i) => {
  const cy = 474.5 + i * 14.3;
  graphics.push({ type: 'line', silent: true, shape: { x1: 274, y1: cy - 6, x2: 274, y2: cy + 6 }, style: { stroke: '#555', lineWidth: 1 } });
  graphics.push({ type: 'rect', silent: true, shape: { x: 268, y: cy - 4, width: 12, height: 8 }, style: { fill: c, stroke: '#555', lineWidth: 1 } });
  graphics.push({ type: 'line', silent: true, shape: { x1: 268, y1: cy, x2: 280, y2: cy }, style: { stroke: '#333', lineWidth: 1.2 } });
  label(283, cy, groupNames[i], { fontSize: 9.5, fontWeight: 'bold', align: 'left' });
});

// C titles and frame of motif panel
label(423, 451, '{b|Telomere Reads} {n|(RPM)}', { rich: { b: { fontSize: 10.5, fontWeight: 'bold', fontFamily: FONT, fill: '#111' }, n: { fontSize: 10.5, fontFamily: FONT, fill: '#111' } } }, Math.PI / 2);
label(490.5, 517, 'Teltale', { fontSize: 9.5, fontWeight: 'bold' });
label(435, 599, 'Telomere Counts', { fontSize: 10.5, fontWeight: 'bold' }, Math.PI / 2);
label(491, 668, 'Telomere Hunter', { fontSize: 9.5, fontWeight: 'bold' });
label(617, 717, 'Telomere Hunter', { fontSize: 9.5, fontWeight: 'bold' });
graphics.push({ type: 'rect', silent: true, z: 20, shape: { x: C2.left, y: C2.top, width: C2.width, height: C2.frameH }, style: { fill: 'none', stroke: '#A8A8A8', lineWidth: 1 } });

// D title
label(77, 762, '{b|RB1 KO/WT}\n{b|Telomere Content}\n{n|(Fold Change)}', { rich: { b: { fontSize: 10.5, fontWeight: 'bold', fontFamily: FONT, lineHeight: 12.2, fill: '#111' }, n: { fontSize: 10.5, fontFamily: FONT, lineHeight: 12.2, fill: '#111' } } }, Math.PI / 2);

const chart = echarts.init(document.getElementById('chart'), null, { renderer: 'canvas', width: 719, height: 859 });
chart.setOption({
  animation: false,
  backgroundColor: '#fff',
  textStyle: { fontFamily: FONT },
  grid: grids,
  xAxis: xAxes,
  yAxis: yAxes,
  series: series,
  visualMap: [{
    type: 'continuous', seriesIndex: heatSeriesIndex, min: VM.min, max: VM.max, calculable: false,
    orient: 'vertical', left: VM.left, top: VM.top, itemWidth: VM.width, itemHeight: VM.height, padding: 0,
    inRange: { color: vmColors }, textStyle: { fontSize: 1, color: '#fff' }
  }],
  legend: [{
    orient: 'vertical', left: 537.3, top: 429, data: genotypes, selectedMode: false,
    itemWidth: 12, itemHeight: 12, itemGap: 6, icon: 'rect',
    padding: [7, 4, 7, 5], borderColor: '#A8A8A8', borderWidth: 1, backgroundColor: '#fff',
    textStyle: { fontSize: 10, fontWeight: 'bold', color: '#111', fontFamily: FONT }
  }],
  graphic: { elements: graphics }
});
</script>
</body>
</html>
